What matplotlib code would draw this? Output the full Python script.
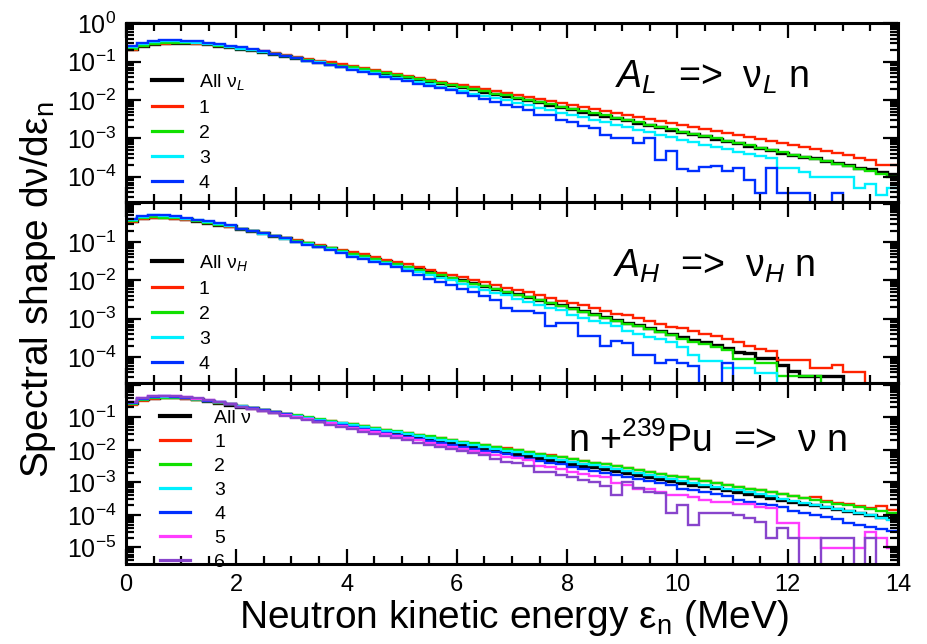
import numpy as np
import matplotlib
matplotlib.use("Agg")
import matplotlib.pyplot as plt
from matplotlib.lines import Line2D
from matplotlib.ticker import LogLocator, MultipleLocator, NullFormatter

plt.rcParams["font.family"] = ["Liberation Sans", "DejaVu Sans"]
plt.rcParams["mathtext.fontset"] = "custom"
plt.rcParams["mathtext.rm"] = "Liberation Sans"
plt.rcParams["mathtext.it"] = "Liberation Sans:italic"
plt.rcParams["mathtext.bf"] = "Liberation Sans:bold"
plt.rcParams["mathtext.sf"] = "Liberation Sans"

# 0.2 MeV bins from 0 to 14 MeV
edges = np.arange(71) * 0.2

# log10 of the spectral shape per bin (None = empty bin)
# --- light fragment A_L ---
L_all = [-0.66, -0.58, -0.53, -0.51, -0.50, -0.51, -0.52, -0.55, -0.58, -0.62,
         -0.66, -0.70, -0.75, -0.80, -0.85, -0.90, -0.95, -1.00, -1.05, -1.10,
         -1.16, -1.21, -1.26, -1.31, -1.36, -1.41, -1.46, -1.51, -1.56, -1.61,
         -1.67, -1.72, -1.78, -1.84, -1.89, -1.95, -2.01, -2.06, -2.12, -2.18,
         -2.24, -2.30, -2.36, -2.41, -2.47, -2.53, -2.59, -2.65, -2.71, -2.77,
         -2.83, -2.89, -2.95, -3.01, -3.07, -3.13, -3.19, -3.25, -3.31, -3.37,
         -3.42, -3.48, -3.52, -3.59, -3.65, -3.70, -3.77, -3.81, -3.87, -3.93]
L_1 = [-0.70, -0.60, -0.55, -0.53, -0.52, -0.52, -0.53, -0.55, -0.58, -0.61,
       -0.65, -0.69, -0.73, -0.78, -0.83, -0.87, -0.92, -0.97, -1.02, -1.07,
       -1.12, -1.17, -1.22, -1.27, -1.32, -1.37, -1.42, -1.47, -1.52, -1.57,
       -1.62, -1.67, -1.72, -1.77, -1.82, -1.87, -1.92, -1.98, -2.03, -2.08,
       -2.13, -2.18, -2.24, -2.29, -2.34, -2.39, -2.44, -2.49, -2.54, -2.59,
       -2.65, -2.70, -2.75, -2.80, -2.86, -2.91, -2.96, -3.01, -3.07, -3.12,
       -3.17, -3.22, -3.27, -3.33, -3.38, -3.43, -3.50, -3.57, -3.69, -3.70]
L_2 = [-0.68, -0.59, -0.54, -0.52, -0.51, -0.51, -0.52, -0.55, -0.58, -0.62,
       -0.66, -0.70, -0.75, -0.80, -0.85, -0.90, -0.95, -1.00, -1.05, -1.10,
       -1.15, -1.20, -1.25, -1.30, -1.35, -1.40, -1.45, -1.50, -1.55, -1.60,
       -1.66, -1.71, -1.77, -1.83, -1.88, -1.94, -2.00, -2.05, -2.11, -2.17,
       -2.23, -2.29, -2.35, -2.40, -2.46, -2.52, -2.58, -2.64, -2.70, -2.76,
       -2.82, -2.88, -2.94, -3.00, -3.06, -3.12, -3.18, -3.24, -3.30, -3.36,
       -3.42, -3.48, -3.54, -3.60, -3.66, -3.73, -3.79, -3.86, -3.93, -4.00]
L_3 = [-0.63, -0.54, -0.49, -0.47, -0.47, -0.48, -0.50, -0.53, -0.57, -0.61,
       -0.66, -0.70, -0.75, -0.80, -0.86, -0.91, -0.97, -1.02, -1.08, -1.13,
       -1.19, -1.25, -1.30, -1.36, -1.42, -1.47, -1.53, -1.59, -1.65, -1.71,
       -1.77, -1.83, -1.89, -1.95, -2.01, -2.08, -2.14, -2.20, -2.26, -2.33,
       -2.39, -2.45, -2.52, -2.58, -2.64, -2.71, -2.77, -2.84, -2.90, -2.97,
       -3.03, -3.09, -3.16, -3.22, -3.28, -3.35, -3.40, -3.46, -3.52, -3.78,
       -3.78, -3.88, -4.00, -4.00, -4.00, -4.00, -4.30, -4.18, -4.48, -4.30]
L_4 = [-0.60, -0.50, -0.45, -0.43, -0.43, -0.45, -0.47, -0.50, -0.54, -0.58,
       -0.63, -0.68, -0.73, -0.79, -0.85, -0.91, -0.97, -1.03, -1.09, -1.15,
       -1.21, -1.27, -1.33, -1.39, -1.45, -1.51, -1.57, -1.63, -1.68, -1.74,
       -1.82, -1.89, -1.97, -2.05, -2.13, -2.19, -2.26, -2.39, -2.39, -2.52,
       -2.57, -2.68, -2.74, -2.91, -3.00, -3.00, -3.13, -3.00, -3.55, -3.33,
       -3.80, -3.85, -3.75, -3.72, -3.85, -3.78, -4.09, -4.42, -3.78, -4.42,
       -4.42, -4.42, None, None, -4.42, None, None, None, None, None]

# --- heavy fragment A_H ---
H_all = [-0.44, -0.36, -0.33, -0.34, -0.36, -0.40, -0.44, -0.49, -0.54, -0.59,
         -0.65, -0.71, -0.77, -0.83, -0.90, -0.96, -1.03, -1.09, -1.16, -1.23,
         -1.30, -1.36, -1.43, -1.50, -1.57, -1.64, -1.71, -1.79, -1.86, -1.93,
         -2.00, -2.07, -2.14, -2.22, -2.29, -2.36, -2.43, -2.51, -2.58, -2.65,
         -2.73, -2.80, -2.88, -2.95, -3.02, -3.10, -3.17, -3.25, -3.32, -3.40,
         -3.47, -3.55, -3.62, -3.69, -3.77, -3.88, -3.90, -4.02, -4.02, -4.20,
         -4.37, -4.50, -4.50, -4.50, -4.50, None, None, None, None, None]
H_1 = [-0.47, -0.39, -0.36, -0.37, -0.39, -0.42, -0.46, -0.51, -0.56, -0.61,
       -0.65, -0.71, -0.77, -0.83, -0.90, -0.94, -1.01, -1.07, -1.14, -1.21,
       -1.26, -1.32, -1.39, -1.46, -1.53, -1.58, -1.65, -1.73, -1.80, -1.87,
       -1.91, -1.98, -2.05, -2.13, -2.20, -2.24, -2.31, -2.39, -2.46, -2.53,
       -2.58, -2.65, -2.73, -2.80, -2.87, -2.91, -2.98, -3.06, -3.13, -3.21,
       -3.24, -3.32, -3.39, -3.46, -3.54, -3.62, -3.70, -3.78, -3.85, -4.07,
       -4.07, -4.07, -4.29, -4.29, -4.22, -4.40, -4.40, None, None, None]
H_2 = [-0.46, -0.38, -0.35, -0.36, -0.38, -0.40, -0.44, -0.49, -0.54, -0.59,
       -0.65, -0.71, -0.77, -0.83, -0.90, -0.96, -1.03, -1.09, -1.16, -1.23,
       -1.30, -1.37, -1.44, -1.51, -1.58, -1.65, -1.72, -1.80, -1.87, -1.94,
       -2.01, -2.08, -2.15, -2.23, -2.30, -2.37, -2.44, -2.52, -2.59, -2.66,
       -2.74, -2.83, -2.91, -2.98, -3.05, -3.13, -3.20, -3.28, -3.35, -3.43,
       -3.52, -3.60, -3.67, -3.74, -3.82, -4.05, -4.05, -4.15, -4.15, -4.50,
       -4.50, -4.50, -4.50, None, None, None, None, None, None, None]
H_3 = [-0.41, -0.33, -0.30, -0.31, -0.33, -0.39, -0.43, -0.48, -0.53, -0.58,
       -0.66, -0.72, -0.78, -0.84, -0.91, -0.99, -1.06, -1.12, -1.19, -1.26,
       -1.35, -1.41, -1.48, -1.55, -1.62, -1.71, -1.78, -1.86, -1.93, -2.00,
       -2.10, -2.17, -2.24, -2.32, -2.39, -2.49, -2.56, -2.64, -2.71, -2.78,
       -2.90, -2.97, -3.05, -3.12, -3.19, -3.32, -3.39, -3.47, -3.54, -3.62,
       -3.75, -3.95, -4.10, -4.10, -4.29, -4.29, -4.29, -4.42, -4.42, None,
       None, None, None, None, None, None, None, None, None, None]
H_4 = [-0.39, -0.31, -0.28, -0.29, -0.31, -0.37, -0.41, -0.46, -0.51, -0.56,
       -0.65, -0.71, -0.77, -0.83, -0.90, -1.00, -1.07, -1.13, -1.20, -1.27,
       -1.38, -1.44, -1.51, -1.58, -1.65, -1.76, -1.85, -1.95, -2.04, -2.13,
       -2.22, -2.30, -2.40, -2.50, -2.72, -2.81, -2.81, -2.85, -3.20, -3.11,
       -3.11, -3.46, -3.46, -3.72, -3.59, -3.63, -3.94, -3.94, -4.16, -4.07,
       -4.16, -4.24, None, None, -4.16, None, None, None, None, None,
       None, None, None, None, None, None, None, None, None, None]

# --- n + 239Pu ---
P_all = [-0.57, -0.45, -0.40, -0.38, -0.39, -0.41, -0.45, -0.50, -0.55, -0.61,
         -0.67, -0.73, -0.79, -0.85, -0.91, -0.97, -1.03, -1.10, -1.16, -1.21,
         -1.27, -1.33, -1.39, -1.44, -1.50, -1.56, -1.62, -1.68, -1.73, -1.79,
         -1.85, -1.91, -1.97, -2.02, -2.08, -2.14, -2.20, -2.26, -2.31, -2.37,
         -2.43, -2.49, -2.54, -2.60, -2.66, -2.72, -2.78, -2.83, -2.89, -2.95,
         -3.01, -3.07, -3.12, -3.18, -3.24, -3.30, -3.36, -3.41, -3.47, -3.53,
         -3.59, -3.65, -3.70, -3.76, -3.82, -3.88, -3.94, -3.99, -4.05, -4.11]
P_1 = [-0.62, -0.49, -0.43, -0.41, -0.41, -0.43, -0.46, -0.51, -0.55, -0.60,
       -0.66, -0.72, -0.78, -0.84, -0.89, -0.95, -1.01, -1.07, -1.12, -1.17,
       -1.22, -1.28, -1.33, -1.38, -1.44, -1.49, -1.54, -1.60, -1.65, -1.70,
       -1.75, -1.81, -1.86, -1.91, -1.95, -2.01, -2.06, -2.12, -2.17, -2.23,
       -2.28, -2.34, -2.39, -2.45, -2.51, -2.57, -2.62, -2.68, -2.73, -2.79,
       -2.85, -2.90, -2.96, -3.02, -3.08, -3.14, -3.19, -3.22, -3.30, -3.36,
       -3.41, -3.47, -3.44, -3.58, -3.62, -3.67, -3.73, -3.78, -3.72, -3.85]
P_2 = [-0.60, -0.47, -0.42, -0.40, -0.40, -0.42, -0.46, -0.50, -0.55, -0.60,
       -0.66, -0.71, -0.77, -0.83, -0.89, -0.94, -1.00, -1.06, -1.11, -1.17,
       -1.22, -1.27, -1.33, -1.38, -1.43, -1.49, -1.54, -1.59, -1.65, -1.70,
       -1.75, -1.80, -1.86, -1.91, -1.96, -2.01, -2.07, -2.12, -2.18, -2.23,
       -2.29, -2.34, -2.40, -2.45, -2.51, -2.56, -2.62, -2.67, -2.73, -2.79,
       -2.84, -2.90, -2.96, -3.01, -3.07, -3.13, -3.19, -3.24, -3.30, -3.36,
       -3.42, -3.48, -3.53, -3.59, -3.65, -3.71, -3.77, -3.83, -3.89, -3.95]
P_3 = [-0.56, -0.44, -0.39, -0.37, -0.38, -0.40, -0.44, -0.49, -0.54, -0.60,
       -0.66, -0.72, -0.78, -0.83, -0.89, -0.95, -1.01, -1.07, -1.13, -1.18,
       -1.24, -1.30, -1.35, -1.41, -1.46, -1.52, -1.58, -1.63, -1.69, -1.74,
       -1.80, -1.86, -1.91, -1.97, -2.03, -2.08, -2.14, -2.20, -2.25, -2.31,
       -2.37, -2.43, -2.48, -2.54, -2.60, -2.66, -2.72, -2.77, -2.83, -2.89,
       -2.95, -3.01, -3.07, -3.13, -3.19, -3.25, -3.31, -3.37, -3.43, -3.50,
       -3.56, -3.62, -3.69, -3.75, -3.82, -3.88, -3.95, -4.01, -4.08, -4.15]
P_4 = [-0.55, -0.43, -0.38, -0.36, -0.37, -0.40, -0.44, -0.49, -0.54, -0.60,
       -0.67, -0.73, -0.79, -0.85, -0.91, -0.99, -1.05, -1.12, -1.18, -1.23,
       -1.30, -1.36, -1.42, -1.47, -1.53, -1.61, -1.67, -1.73, -1.78, -1.84,
       -1.91, -1.97, -2.03, -2.08, -2.14, -2.22, -2.28, -2.34, -2.39, -2.45,
       -2.53, -2.59, -2.64, -2.70, -2.76, -2.85, -2.91, -2.96, -3.02, -3.08,
       -3.19, -3.25, -3.30, -3.36, -3.42, -3.54, -3.60, -3.65, -3.71, -3.77,
       -3.89, -3.95, -4.00, -4.06, -4.12, -4.25, -4.31, -4.36, -4.42, -4.48]
P_5 = [-0.53, -0.41, -0.36, -0.35, -0.36, -0.39, -0.43, -0.48, -0.54, -0.60,
       -0.67, -0.74, -0.80, -0.87, -0.93, -1.00, -1.06, -1.13, -1.19, -1.26,
       -1.32, -1.39, -1.45, -1.52, -1.58, -1.65, -1.71, -1.78, -1.84, -1.91,
       -1.97, -2.03, -2.09, -2.16, -2.23, -2.26, -2.31, -2.50, -2.54, -2.60,
       -2.67, -2.75, -2.81, -2.85, -3.03, -3.08, -3.19, -3.19, -3.29, -3.39,
       -3.39, -3.44, -3.54, -3.60, -3.60, -3.65, -3.65, -3.75, -3.80, -4.26,
       -4.26, -4.72, -4.72, -5.03, -5.03, -5.03, -5.03, -4.52, -4.72, -5.03]
P_6 = [-0.52, -0.40, -0.35, -0.34, -0.35, -0.38, -0.42, -0.47, -0.53, -0.60,
       -0.67, -0.74, -0.81, -0.88, -0.95, -1.02, -1.09, -1.16, -1.23, -1.30,
       -1.37, -1.44, -1.50, -1.57, -1.64, -1.71, -1.78, -1.84, -1.91, -1.97,
       -2.03, -2.09, -2.16, -2.27, -2.37, -2.42, -2.50, -2.67, -2.67, -2.78,
       -2.83, -2.93, -2.98, -3.11, -3.39, -2.98, -3.18, -3.29, -3.34, -3.95,
       -3.70, -4.31, -3.95, -3.95, -3.95, -4.00, -4.11, -4.21, -4.70, -4.40,
       -4.70, None, None, -4.70, -4.70, -4.70, None, -4.70, None, None]

colors = ["black", "#ff2200", "#11e000", "#00f0ff", "#0030ff", "#ff3cff", "#8844cc"]


def to_lin(vals):
    return np.array([0.0 if v is None else 10.0 ** v for v in vals])


fig = plt.figure(figsize=(9.27, 6.44), dpi=100)
left, width = 126 / 927, 772 / 927
ax1 = fig.add_axes([left, 1 - 202 / 644, width, 179 / 644])
ax2 = fig.add_axes([left, 1 - 383 / 644, width, 181 / 644])
ax3 = fig.add_axes([left, 1 - 564 / 644, width, 181 / 644])

panels = [
    (ax1, [L_all, L_1, L_2, L_3, L_4], r"All ν$_{\mathit{L}}$", (2.2e-5, 1.02),
     [1e-4, 1e-3, 1e-2, 1e-1, 1e0], ["$10^{-4}$", "$10^{-3}$", "$10^{-2}$", "$10^{-1}$", "$10^{0}$"],
     (0.034, 0.728), 0.85, 0.38, r"$\mathit{A}_{\mathit{L}}$  =>  ν$_{\mathit{L}}$ n", (0.633, 0.637)),
    (ax2, [H_all, H_1, H_2, H_3, H_4], r"All ν$_{\mathit{H}}$", (2.1e-5, 1.12),
     [1e-4, 1e-3, 1e-2, 1e-1, 1e0], ["$10^{-4}$", "$10^{-3}$", "$10^{-2}$", "$10^{-1}$", ""],
     (0.034, 0.72), 0.85, 0.38, r"$\mathit{A}_{\mathit{H}}$  =>  ν$_{\mathit{H}}$ n", (0.631, 0.586)),
    (ax3, [P_all, P_1, P_2, P_3, P_4, P_5, P_6], "All ν", (3.1e-6, 1.13),
     [1e-5, 1e-4, 1e-3, 1e-2, 1e-1, 1e0],
     ["$10^{-5}$", "$10^{-4}$", "$10^{-3}$", "$10^{-2}$", "$10^{-1}$", ""],
     (0.044, 0.856), 1.25, 0.33, r"n +$^{239}$Pu  =>  ν n", (0.573, 0.619)),
]

for ax, series, all_label, ylim, yt, ytl, leg_pos, txtpad, lspace, title, title_pos in panels:
    handles, labels = [], []
    for i, vals in enumerate(series):
        lw = 2.4 if i == 0 else 1.7
        ax.stairs(to_lin(vals), edges, baseline=None, color=colors[i], lw=lw)
        handles.append(Line2D([], [], color=colors[i], lw=lw + 0.6))
        labels.append(all_label if i == 0 else str(i))

    ax.set_yscale("log")
    ax.set_xlim(0, 14)
    ax.set_ylim(*ylim)
    ax.set_yticks(yt, ytl)
    ax.yaxis.set_minor_locator(LogLocator(base=10, subs=np.arange(2, 10), numticks=30))
    ax.yaxis.set_minor_formatter(NullFormatter())
    ax.xaxis.set_major_locator(MultipleLocator(2))
    ax.xaxis.set_minor_locator(MultipleLocator(0.5))
    ax.tick_params(which="both", direction="in", top=True, right=True, width=1.6)
    ax.tick_params(which="major", length=11, pad=7)
    ax.tick_params(axis="y", labelsize=18)
    ax.tick_params(axis="x", labelsize=17)
    ax.tick_params(which="minor", length=6)
    for s in ax.spines.values():
        s.set_linewidth(2.2)

    ax.legend(handles, labels, loc="upper left", bbox_to_anchor=leg_pos, frameon=False,
              fontsize=14, handlelength=1.55, handletextpad=txtpad, labelspacing=lspace,
              borderpad=0, borderaxespad=0)
    ax.text(title_pos[0], title_pos[1], title, transform=ax.transAxes, fontsize=27,
            va="baseline", ha="left")

ax1.tick_params(labelbottom=False)
ax2.tick_params(labelbottom=False)
ax3.set_xticks([0, 2, 4, 6, 8, 10, 12, 14])

fig.text(514 / 927, 1 - 618 / 644, r"Neutron kinetic energy ε$_\mathregular{n}$ (MeV)",
         ha="center", va="center", fontsize=28)
fig.text(38 / 927, 1 - 290 / 644, r"Spectral shape dν/dε$_\mathregular{n}$",
         ha="center", va="center", rotation=90, fontsize=28)

fig.savefig("out.png", dpi=100)
plt.close(fig)
